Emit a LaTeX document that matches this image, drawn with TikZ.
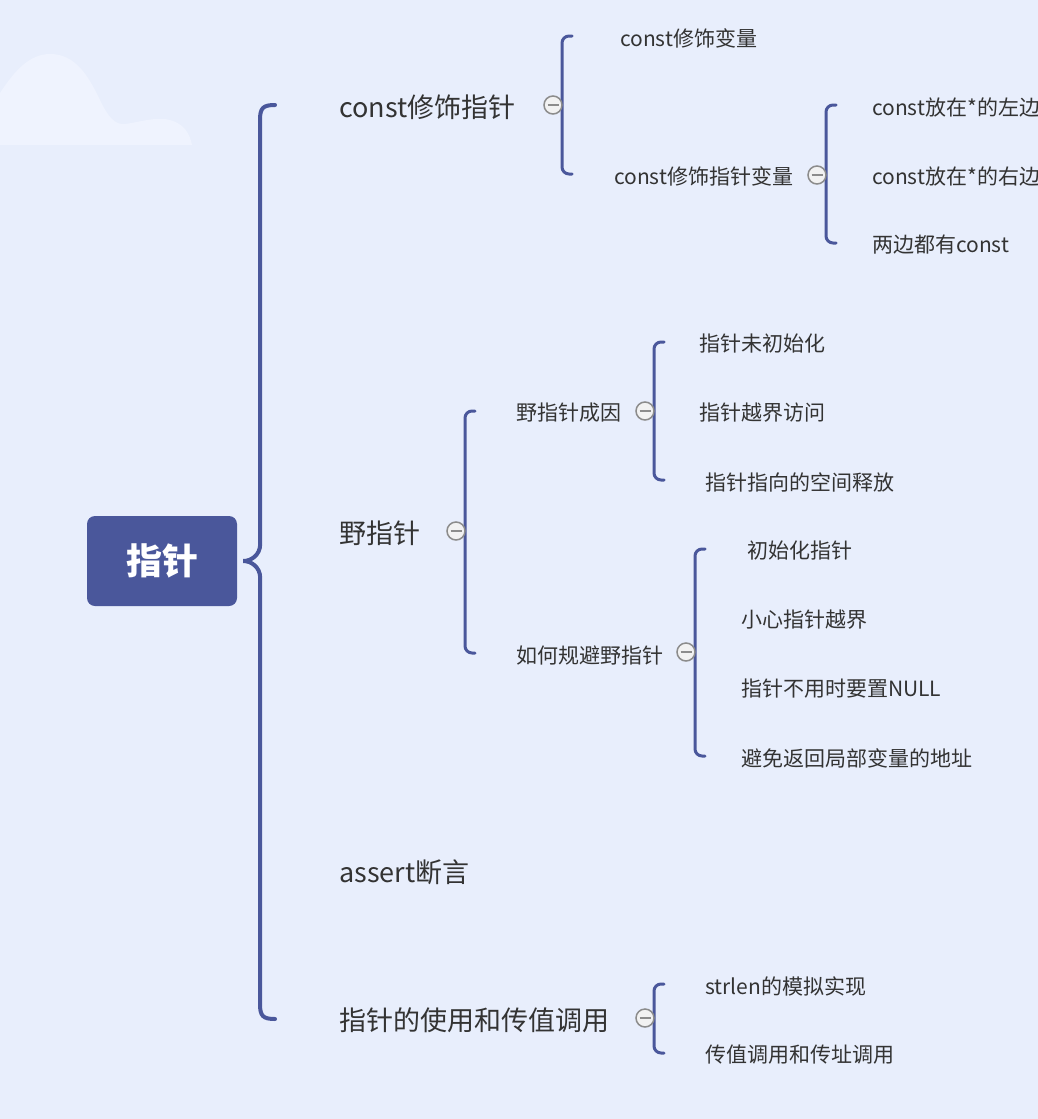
\documentclass[tikz,border=0pt]{standalone}
\usepackage{fontspec}
\newfontfamily\cjk{Noto Sans CJK SC}
\usetikzlibrary{calc}
\definecolor{bgc}{RGB}{232,238,252}
\definecolor{cloudc}{RGB}{239,243,254}
\definecolor{brc}{RGB}{74,87,155}
\definecolor{txc}{RGB}{51,51,51}
\definecolor{circc}{RGB}{140,140,140}
\definecolor{circf}{RGB}{242,242,242}
\tikzset{
  lvA/.style={anchor=west,inner sep=0pt,text=txc,font=\cjk\fontsize{27}{30}\selectfont},
  lvB/.style={anchor=west,inner sep=0pt,text=txc,font=\cjk\fontsize{21}{24}\selectfont},
  rootbox/.style={draw=none,fill=brc,rounded corners=8pt,minimum width=150pt,minimum height=90pt,text=white,font=\cjk\bfseries\fontsize{36}{40}\selectfont},
  mainbrace/.style={draw=brc,line width=4pt,line cap=round},
  subbrace/.style={draw=brc,line width=3pt,line cap=round,rounded corners=7pt},
  foldc/.style={circle,draw=circc,fill=circf,line width=1.5pt,minimum size=18pt,inner sep=0pt,outer sep=0pt,
    path picture={\draw[circc,line width=2pt] ([xshift=-5.5pt]path picture bounding box.center) -- ([xshift=5.5pt]path picture bounding box.center);}}
}
\newcommand\subbr[3]{%
  \draw[subbrace] ($(#1.east |- #2.west)+(10,2)$) -- ($(#1.east |- #2.west)+(0,2)$)
    -- ($(#1.east |- #3.west)+(0,2)$) -- ($(#1.east |- #3.west)+(10,2)$);}
\begin{document}
\begin{tikzpicture}[x=1pt,y=1pt]
\fill[bgc] (0,0) rectangle (1038,-1119);
\useasboundingbox (0,0) rectangle (1038,-1119);
% cloud
\fill[cloudc] (0,-145) -- (0,-93) .. controls (15,-70) and (30,-54) .. (50,-54)
  .. controls (75,-54) and (88,-75) .. (100,-100)
  .. controls (108,-117) and (115,-125) .. (125,-124)
  .. controls (140,-122) and (150,-118) .. (165,-119)
  .. controls (185,-122) and (190,-135) .. (192,-145) -- cycle;
% root
\node[rootbox] (root) at (162,-561) {指针};
% level 1
\node[lvA] (t1) at (339,-107) {const修饰指针};
\node[lvA] (t2) at (339,-533) {野指针};
\node[lvA] (t3) at (339,-872) {assert断言};
\node[lvA] (t4) at (339,-1020) {指针的使用和传值调用};
% main brace
\coordinate (cusp) at ($(root.east)+(6,0)$);
\coordinate (mbT) at ($(t1.west)+(-64,2)$);
\coordinate (mbB) at ($(t4.west)+(-64,1)$);
\draw[mainbrace] (mbT) .. controls ($(mbT)+(-12,0)$) and ($(mbT)+(-15,-3)$) .. ($(mbT)+(-15,-15)$)
  -- ($(cusp)+(17,17)$) .. controls ($(cusp)+(17,6)$) and ($(cusp)+(8,0)$) .. (cusp)
  .. controls ($(cusp)+(8,0)$) and ($(cusp)+(17,-6)$) .. ($(cusp)+(17,-17)$)
  -- ($(mbB)+(-15,15)$) .. controls ($(mbB)+(-15,3)$) and ($(mbB)+(-12,0)$) .. (mbB);
% const branch
\node[lvB] (a1) at (620,-38) {const修饰变量};
\node[lvB] (a2) at (614,-176) {const修饰指针变量};
\node[lvB] (a21) at (872,-107) {const放在*的左边};
\node[lvB] (a22) at (872,-176) {const放在*的右边};
\node[lvB] (a23) at (872,-245) {两边都有const};
% wild pointer branch
\node[lvB] (b1) at (516,-413) {野指针成因};
\node[lvB] (b2) at (516,-655) {如何规避野指针};
\node[lvB] (b11) at (699,-344) {指针未初始化};
\node[lvB] (b12) at (699,-413) {指针越界访问};
\node[lvB] (b13) at (705,-482) {指针指向的空间释放};
\node[lvB] (b21) at (747,-551) {初始化指针};
\node[lvB] (b22) at (741,-620) {小心指针越界};
\node[lvB] (b23) at (741,-689) {指针不用时要置NULL};
\node[lvB] (b24) at (741,-758) {避免返回局部变量的地址};
% usage branch
\node[lvB] (d1) at (705,-986) {strlen的模拟实现};
\node[lvB] (d2) at (705,-1055) {传值调用和传址调用};
% fold circles (positions) 
\coordinate (pc1) at (553,-105);
\coordinate (pc11) at (817,-175);
\coordinate (pc2) at (456,-531);
\coordinate (pc21) at (645,-411);
\coordinate (pc22) at (686,-652);
\coordinate (pc4) at (645,-1018);
\path (pc1) node[foldc,draw=none,fill=none,path picture={}] (c1) {};
\path (pc11) node[foldc,draw=none,fill=none,path picture={}] (c11) {};
\path (pc2) node[foldc,draw=none,fill=none,path picture={}] (c2) {};
\path (pc21) node[foldc,draw=none,fill=none,path picture={}] (c21) {};
\path (pc22) node[foldc,draw=none,fill=none,path picture={}] (c22) {};
\path (pc4) node[foldc,draw=none,fill=none,path picture={}] (c4) {};
\subbr{c1}{a1}{a2}
\subbr{c11}{a21}{a23}
\subbr{c2}{b1}{b2}
\subbr{c21}{b11}{b13}
\subbr{c22}{b21}{b24}
\subbr{c4}{d1}{d2}
\foreach \c in {c1,c11,c2,c21,c22,c4}{\node[foldc] at (\c) {};}
\end{tikzpicture}
\end{document}
